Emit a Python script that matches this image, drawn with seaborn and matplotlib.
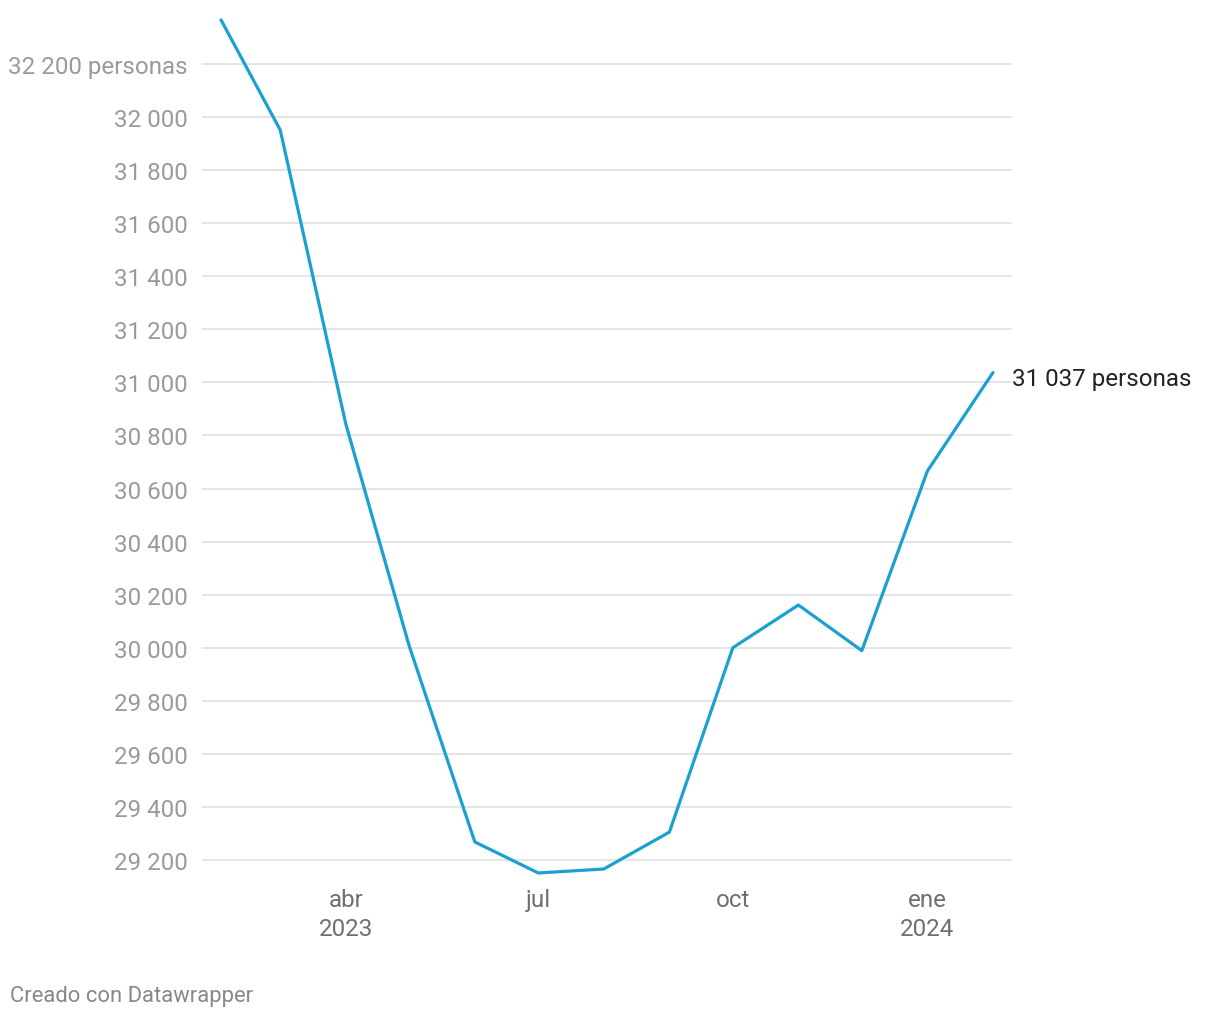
import pandas as pd
import seaborn as sns
import matplotlib.pyplot as plt

sns.set_theme(style="white")
plt.rcParams["font.family"] = ["Roboto", "DejaVu Sans"]

# monthly values, Feb 2023 - Feb 2024
months = pd.date_range("2023-02-01", "2024-02-01", freq="MS")
personas = [32366, 31951, 30843, 30006, 29268, 29151, 29166,
            29305, 30000, 30161, 29989, 30666, 31037]
y_ticks = [29200, 29400, 29600, 29800, 30000, 30200, 30400, 30600,
           30800, 31000, 31200, 31400, 31600, 31800, 32000, 32200]
x_ticks = ["2023-04-01", "2023-07-01", "2023-10-01", "2024-01-01"]
x_labels = ["abr\n2023", "jul", "oct", "ene\n2024"]

df = pd.DataFrame({"mes": months, "personas": personas})

fig = plt.figure(figsize=(12.2, 10.2), dpi=100)
ax = fig.add_axes([202 / 1220, 0.1351, 810 / 1220, 0.8532])

sns.lineplot(data=df, x="mes", y="personas", ax=ax, color="#1ba1cf",
             linewidth=2.3, zorder=3)

ax.set_xlim(pd.Timestamp("2023-01-23"), pd.Timestamp("2024-02-10"))
ax.set_ylim(29120, 32400)

ax.set_yticks(y_ticks)
ylabels = [f"{v:,}".replace(",", " ") for v in y_ticks]
ylabels[-1] = ylabels[-1] + " personas"
ax.set_yticklabels(ylabels)
ax.set_xticks(pd.to_datetime(x_ticks))
ax.set_xticklabels(x_labels, linespacing=1.35)

ax.grid(axis="y", color="#e0e0e0", linewidth=1.2)
ax.grid(axis="x", visible=False)
for s in ax.spines.values():
    s.set_visible(False)
ax.tick_params(axis="y", length=0, pad=10, labelsize=17.4, labelcolor="#9a9a9a")
ax.tick_params(axis="x", length=0, pad=5, labelsize=17.4, labelcolor="#6f6f6f")
ax.set_xlabel("")
ax.set_ylabel("")

last = df.iloc[-1]
ax.annotate(f"{last['personas']:,}".replace(",", " ") + " personas",
            xy=(last["mes"], last["personas"]), xytext=(14, -4),
            textcoords="offset points", fontsize=17.4, color="#222222",
            va="center", ha="left", annotation_clip=False)

fig.text(10 / 1220, 1 - 997 / 1020, "Creado con Datawrapper", fontsize=15.8,
         color="#888888", va="center", ha="left")

fig.savefig("out.png", dpi=100, facecolor="white")
